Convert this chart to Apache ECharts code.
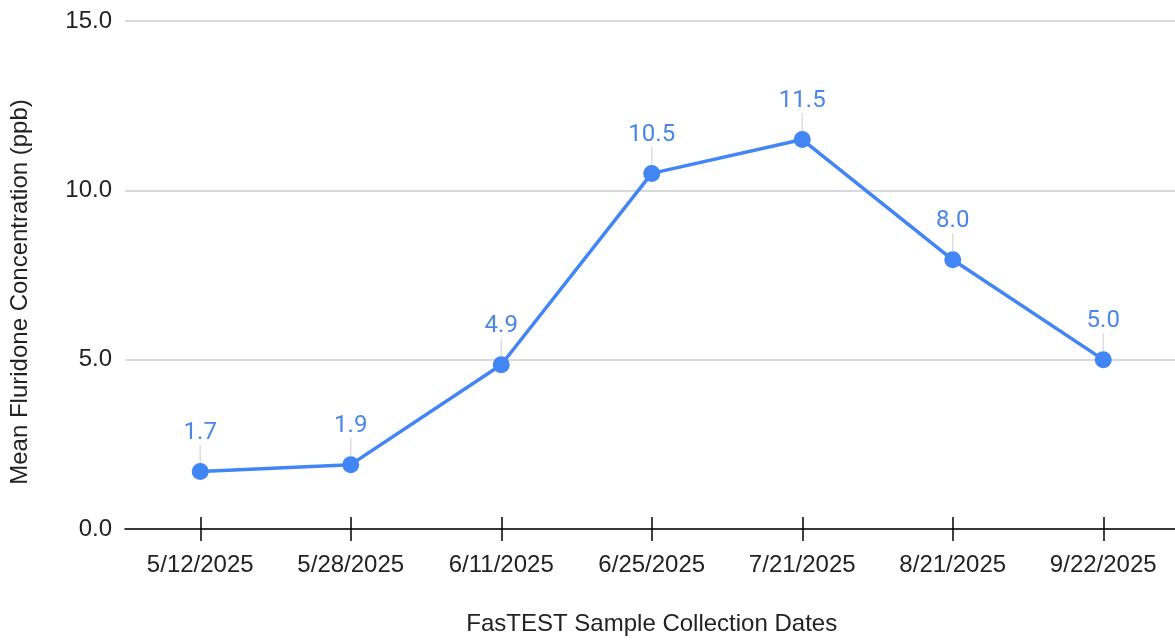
<!DOCTYPE html>
<html>
<head>
<meta charset="utf-8">
<script src="https://cdn.jsdelivr.net/npm/echarts@6/dist/echarts.min.js"></script>
<style>html,body{margin:0;padding:0;background:#fff}#c{width:1175px;height:641px}</style>
</head>
<body>
<div id="c"></div>
<script>
const categories = ['5/12/2025', '5/28/2025', '6/11/2025', '6/25/2025', '7/21/2025', '8/21/2025', '9/22/2025'];
const values = [1.7, 1.9, 4.85, 10.5, 11.5, 7.95, 5.0];
const labels = ['1.7', '1.9', '4.9', '10.5', '11.5', '8.0', '5.0'];
const yTicks = [0, 5, 10, 15];

const chart = echarts.init(document.getElementById('c'));
const axisFont = '"Liberation Sans", Arial, sans-serif';
chart.setOption({
  animation: false,
  grid: { left: 125, top: 21, bottom: 112, width: 1053.5, outerBoundsMode: 'none', containLabel: false },
  xAxis: [{
    type: 'category',
    data: categories,
    position: 'bottom',
    boundaryGap: true,
    axisLine: { show: true, lineStyle: { color: '#000', width: 1.5 } },
    axisTick: { show: true, alignWithLabel: true, length: 12, lineStyle: { color: '#000', width: 1.5 } },
    axisLabel: { color: '#222', fontSize: 24, fontFamily: axisFont, margin: 24 },
    name: 'FasTEST Sample Collection Dates',
    nameLocation: 'middle',
    nameGap: 83,
    nameTextStyle: { color: '#222', fontSize: 24, fontFamily: axisFont }
  }, {
    type: 'category',
    data: categories,
    position: 'bottom',
    offset: 0,
    boundaryGap: true,
    axisLine: { show: false },
    axisTick: { show: true, inside: true, alignWithLabel: true, length: 12, lineStyle: { color: '#000', width: 1.5 } },
    axisLabel: { show: false }
  }],
  yAxis: {
    type: 'value',
    min: 0, max: 15, interval: 5,
    axisLine: { show: false },
    axisTick: { show: false },
    splitLine: { lineStyle: { color: '#cccccc', width: 1.5 } },
    axisLabel: {
      color: '#222', fontSize: 24, fontFamily: axisFont, margin: 13,
      formatter: v => yTicks.includes(v) ? v.toFixed(1) : ''
    },
    name: 'Mean Fluridone Concentration (ppb)',
    nameLocation: 'middle',
    nameGap: 93,
    nameRotate: 90,
    nameTextStyle: { color: '#222', fontSize: 24, fontFamily: axisFont, padding: [0, 0, 0, -34] }
  },
  series: [{
    type: 'line',
    data: values,
    xAxisIndex: 0,
    symbol: 'circle',
    symbolSize: 17,
    lineStyle: { color: '#4285F4', width: 3.5 },
    itemStyle: { color: '#4285F4' },
    label: {
      show: true, position: 'top', distance: 6,
      color: '#4A86E8', fontSize: 24, fontFamily: 'Roboto, sans-serif',
      formatter: p => labels[p.dataIndex]
    },
    labelLayout: { dy: -12 },
    labelLine: { show: true, lineStyle: { color: '#dddddd', width: 1.5 } },
    z: 3
  }]
});
</script>
</body>
</html>
